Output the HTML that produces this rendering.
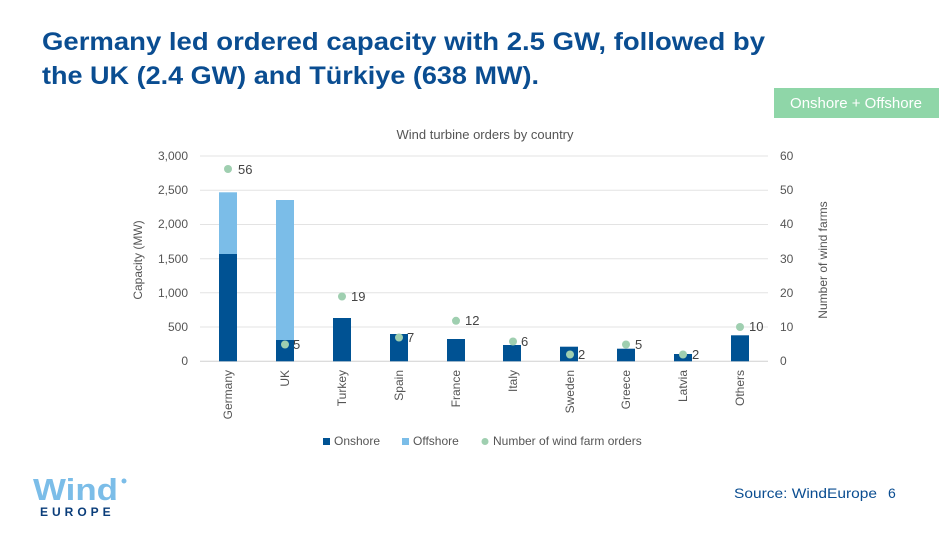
<!DOCTYPE html>
<html><head><style>
body{margin:0;width:939px;height:528px;background:#fff;overflow:hidden;font-family:"Liberation Sans",sans-serif;}
</style></head><body>
<svg width="939" height="528" xmlns="http://www.w3.org/2000/svg" font-family="Liberation Sans, sans-serif">
<text x="42" y="50" font-size="25" font-weight="bold" fill="#0a4d91" textLength="723" lengthAdjust="spacingAndGlyphs">Germany led ordered capacity with 2.5 GW, followed by</text>
<text x="42" y="84" font-size="25" font-weight="bold" fill="#0a4d91" textLength="497" lengthAdjust="spacingAndGlyphs">the UK (2.4 GW) and Türkiye (638 MW).</text>
<rect x="774" y="88" width="165" height="30" fill="#8fd6a8"/>
<text x="856" y="108" font-size="15" fill="#fff" text-anchor="middle">Onshore + Offshore</text>
<text x="485" y="139" font-size="13" fill="#555" text-anchor="middle">Wind turbine orders by country</text>
<g stroke="#e3e3e3" stroke-width="1">
<line x1="200" x2="768" y1="156" y2="156"/><line x1="200" x2="768" y1="190.3" y2="190.3"/><line x1="200" x2="768" y1="224.5" y2="224.5"/><line x1="200" x2="768" y1="258.7" y2="258.7"/><line x1="200" x2="768" y1="292.8" y2="292.8"/><line x1="200" x2="768" y1="327" y2="327"/><line x1="200" x2="768" y1="361.3" y2="361.3" stroke="#d0d0d0"/>
</g>
<g font-size="12" fill="#555" text-anchor="end">
<text x="188" y="160">3,000</text><text x="188" y="194">2,500</text><text x="188" y="228">2,000</text><text x="188" y="263">1,500</text><text x="188" y="297">1,000</text><text x="188" y="331">500</text><text x="188" y="365">0</text>
</g>
<g font-size="12" fill="#555">
<text x="780" y="160">60</text><text x="780" y="194">50</text><text x="780" y="228">40</text><text x="780" y="263">30</text><text x="780" y="297">20</text><text x="780" y="331">10</text><text x="780" y="365">0</text>
</g>
<text transform="translate(142,260) rotate(-90)" font-size="12" fill="#555" text-anchor="middle">Capacity (MW)</text>
<text transform="translate(827,260) rotate(-90)" font-size="12" fill="#555" text-anchor="middle">Number of wind farms</text>
<g fill="#005293">
<rect x="219" y="254" width="18" height="107.3"/><rect x="276" y="340" width="18" height="21.3"/><rect x="333" y="318" width="18" height="43.3"/><rect x="390" y="334" width="18" height="27.3"/><rect x="447" y="339" width="18" height="22.3"/><rect x="503" y="345" width="18" height="16.3"/><rect x="560" y="346.7" width="18" height="14.6"/><rect x="617" y="348.7" width="18" height="12.6"/><rect x="674" y="354" width="18" height="7.3"/><rect x="731" y="335.3" width="18" height="26"/>
</g>
<g fill="#7bbde8"><rect x="219" y="192.3" width="18" height="61.7"/><rect x="276" y="200" width="18" height="140"/></g>
<g fill="#9fcfb0">
<circle cx="228" cy="169" r="4"/><circle cx="285" cy="344.5" r="4"/><circle cx="342" cy="296.5" r="4"/><circle cx="399" cy="337.5" r="4"/><circle cx="456" cy="320.8" r="4"/><circle cx="513" cy="341.5" r="4"/><circle cx="570" cy="354.5" r="4"/><circle cx="626" cy="344.5" r="4"/><circle cx="683" cy="354.5" r="4"/><circle cx="740" cy="327" r="4"/>
</g>
<g font-size="13" fill="#444">
<text x="238" y="174">56</text><text x="293" y="349">5</text><text x="351" y="301">19</text><text x="407" y="342">7</text><text x="465" y="325">12</text><text x="521" y="346">6</text><text x="578" y="359">2</text><text x="635" y="349">5</text><text x="692" y="359">2</text><text x="749" y="331">10</text>
</g>
<g font-size="12" fill="#555" text-anchor="end">
<text transform="translate(232,370) rotate(-90)">Germany</text>
<text transform="translate(289,370) rotate(-90)">UK</text>
<text transform="translate(346,370) rotate(-90)">Turkey</text>
<text transform="translate(403,370) rotate(-90)">Spain</text>
<text transform="translate(460,370) rotate(-90)">France</text>
<text transform="translate(517,370) rotate(-90)">Italy</text>
<text transform="translate(574,370) rotate(-90)">Sweden</text>
<text transform="translate(630,370) rotate(-90)">Greece</text>
<text transform="translate(687,370) rotate(-90)">Latvia</text>
<text transform="translate(744,370) rotate(-90)">Others</text>
</g>
<rect x="323" y="438" width="7" height="7" fill="#005293"/><text x="334" y="445" font-size="12" fill="#555">Onshore</text>
<rect x="402" y="438" width="7" height="7" fill="#7bbde8"/><text x="413" y="445" font-size="12" fill="#555">Offshore</text>
<circle cx="485" cy="441.5" r="3.5" fill="#9fcfb0"/><text x="493" y="445" font-size="12" fill="#555">Number of wind farm orders</text>
<text x="33" y="500" font-size="31" font-weight="bold" fill="#7bbde8" textLength="85" lengthAdjust="spacingAndGlyphs">Wind</text>
<circle cx="124" cy="481" r="2.5" fill="#7bbde8"/>
<text x="40" y="516" font-size="12" font-weight="bold" fill="#0a3d7a" letter-spacing="4">EUROPE</text>
<text x="734" y="498" font-size="14" fill="#0a4d91" textLength="143" lengthAdjust="spacingAndGlyphs">Source: WindEurope</text>
<text x="888" y="498" font-size="14" fill="#0a4d91">6</text>
</svg>
</body></html>
